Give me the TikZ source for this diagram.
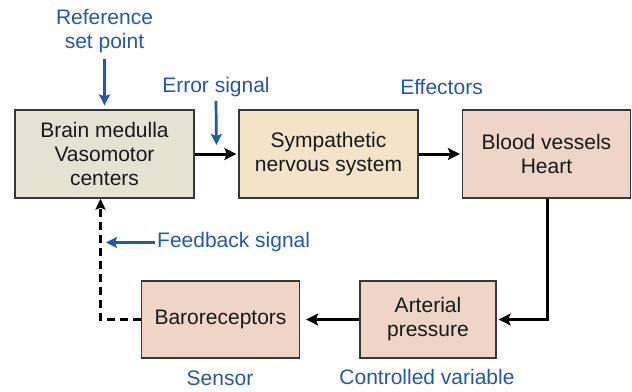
\documentclass[tikz,border=0pt]{standalone}
\usepackage{fontspec}
\setmainfont{Liberation Sans}
\usetikzlibrary{arrows.meta}

\begin{document}
\begin{tikzpicture}[x=1pt, y=-1pt,
    every node/.style={font=\fontsize{21}{24}\selectfont, align=center},
    block/.style={rectangle, draw=boxline, line width=1.3pt, inner sep=0pt, text=ink},
    lbl/.style={text=sigblue, inner sep=2pt},
    flow/.style={line width=3pt, -{Stealth[length=12pt, width=12pt, inset=2.5pt]}},
    sig/.style={sigblue, line width=2.7pt, -{Stealth[length=11pt, width=11pt, inset=2pt]}},
    fb/.style={line width=3pt, dash pattern=on 8pt off 5pt, -{Stealth[length=11pt, width=10pt, inset=2pt]}}]
    % Define box and signal colors
    \definecolor{boxline}{RGB}{55,55,55}
    \definecolor{ink}{RGB}{25,25,25}
    \definecolor{sigblue}{RGB}{36,88,168}
    \definecolor{centerfill}{RGB}{229,225,211}
    \definecolor{nervefill}{RGB}{243,227,200}
    \definecolor{organfill}{RGB}{238,213,200}

    \useasboundingbox (0,0) rectangle (632,391);

    % Blocks of the loop
    \node[block, fill=centerfill, minimum width=179pt, minimum height=88pt] (medulla) at (104.5,154) {Brain medulla\\Vasomotor\\centers};
    \node[block, fill=nervefill, minimum width=179pt, minimum height=88pt] (sympathetic) at (328.5,154) {Sympathetic\\nervous system};
    \node[block, fill=organfill, minimum width=168pt, minimum height=88pt] (effector) at (546.5,154) {Blood vessels\\Heart};
    \node[block, fill=organfill, minimum width=136pt, minimum height=77pt] (pressure) at (428,319.5) {Arterial\\pressure};
    \node[block, fill=organfill, minimum width=158pt, minimum height=77pt] (sensor) at (220.5,319.5) {Baroreceptors};

    % Blue labels
    \node[lbl] (setpoint) at (104.5,31.5) {Reference\\set point};
    \node[lbl] (error) at (216,87) {Error signal};
    \node[lbl] (effectors) at (441.5,87) {Effectors};
    \node[lbl, anchor=west] (feedback) at (155,242.5) {Feedback signal};
    \node[lbl] (sensorlbl) at (220,378) {Sensor};
    \node[lbl] (variable) at (427,377) {Controlled variable};

    \coordinate (errtip) at (216.5,145);
    \coordinate (fbtip) at (106,242.5);
    \coordinate (fbcorner) at (100.5,319.5);

    % Signal arrows
    \draw[sig] ([yshift=-4pt]setpoint.south) -- ([yshift=4pt]medulla.north);
    \draw[sig] ([yshift=-2pt]error.south) -- (errtip);
    \draw[sig] (feedback.west) -- (fbtip);

    % Main loop
    \draw[flow] (medulla.east) -- ([xshift=-2pt]sympathetic.west);
    \draw[flow] (sympathetic.east) -- ([xshift=-2pt]effector.west);
    \draw[flow] ([xshift=1pt]effector.south) |- ([xshift=2pt]pressure.east);
    \draw[flow] (pressure.west) -- ([xshift=6pt]sensor.east);
    \draw[fb] (sensor.west) -- (fbcorner) -- (fbcorner |- medulla.south);
\end{tikzpicture}
\end{document}
